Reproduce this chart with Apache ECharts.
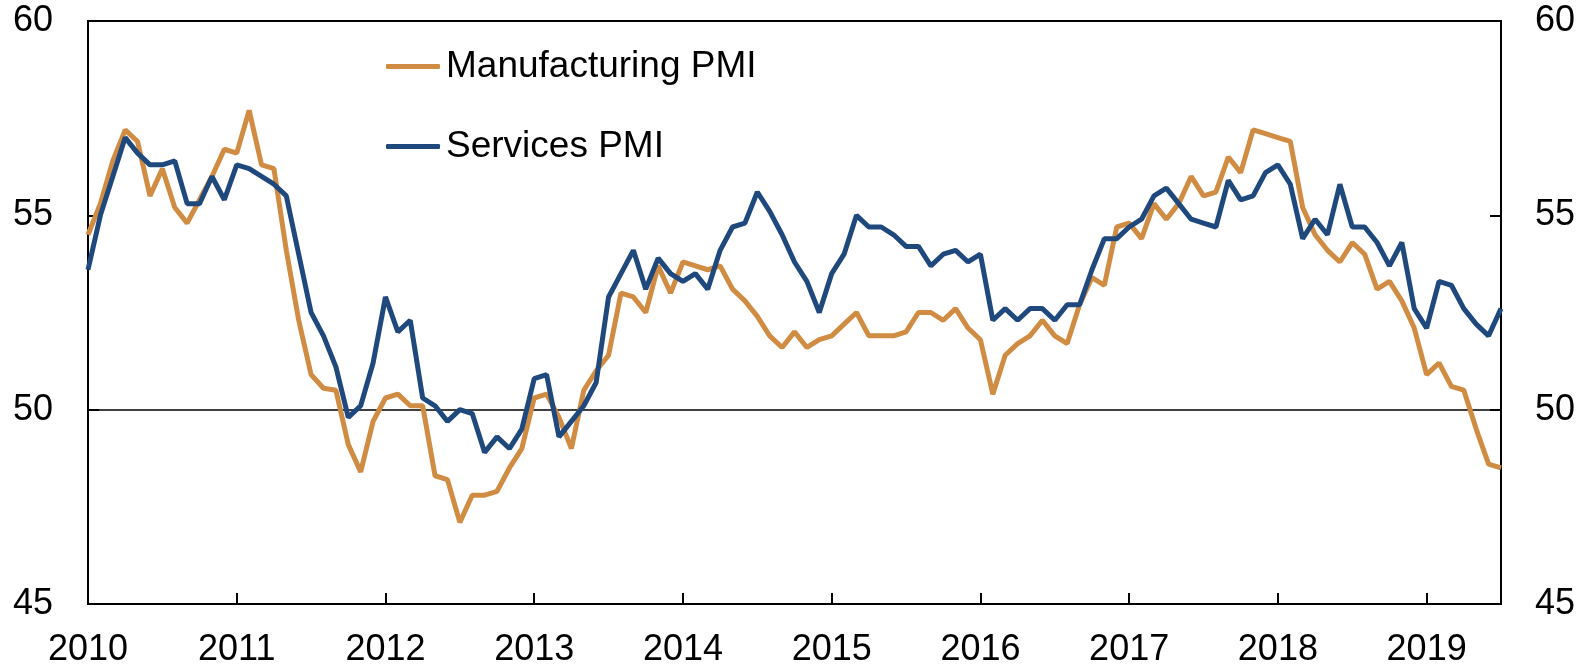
<!DOCTYPE html>
<html>
<head>
<meta charset="utf-8">
<script src="https://cdn.jsdelivr.net/npm/echarts@6/dist/echarts.min.js"></script>
<style>
html,body{margin:0;padding:0;background:#fff;}
#chart{width:1587px;height:668px;}
</style>
</head>
<body>
<div id="chart"></div>
<script>
// Monthly categories Jan 2010 .. Jul 2019
const startYear = 2010;
const monthCount = 115;
const months = [];
for (let i = 0; i < monthCount; i++) {
  const y = startYear + Math.floor(i / 12);
  const m = (i % 12) + 1;
  months.push(y + '-' + (m < 10 ? '0' + m : m));
}

const manufacturingPMI = [
  54.5, 55.3, 56.4, 57.2, 56.9, 55.5, 56.2, 55.2, 54.8, 55.4, 56.0, 56.7,
  56.6, 57.7, 56.3, 56.2, 54.1, 52.3, 50.9, 50.55, 50.5, 49.1, 48.4, 49.7,
  50.3, 50.4, 50.1, 50.1, 48.3, 48.2, 47.1, 47.8, 47.8, 47.9, 48.5, 49.0,
  50.3, 50.4, 49.8, 49.0, 50.5, 51.0, 51.4, 53.0, 52.9, 52.5, 53.7, 53.0,
  53.8, 53.7, 53.6, 53.7, 53.1, 52.8, 52.4, 51.9, 51.6, 52.0, 51.6, 51.8,
  51.9, 52.2, 52.5, 51.9, 51.9, 51.9, 52.0, 52.5, 52.5, 52.3, 52.6, 52.1,
  51.8, 50.4, 51.4, 51.7, 51.9, 52.3, 51.9, 51.7, 52.7, 53.4, 53.2, 54.7,
  54.8, 54.4, 55.3, 54.9, 55.3, 56.0, 55.5, 55.6, 56.5, 56.1, 57.2, 57.1,
  57.0, 56.9, 55.2, 54.5, 54.1, 53.8, 54.3, 54.0, 53.1, 53.3, 52.8, 52.1,
  50.9, 51.2, 50.6, 50.5, 49.5, 48.6, 48.5
];

const servicesPMI = [
  53.6, 55.0, 56.0, 57.0, 56.6, 56.3, 56.3, 56.4, 55.3, 55.3, 56.0, 55.4,
  56.3, 56.2, 56.0, 55.8, 55.5, 54.0, 52.5, 51.9, 51.1, 49.8, 50.1, 51.2,
  52.9, 52.0, 52.3, 50.3, 50.1, 49.7, 50.0, 49.9, 48.9, 49.3, 49.0, 49.5,
  50.8, 50.9, 49.3, 49.7, 50.1, 50.7, 52.9, 53.5, 54.1, 53.1, 53.9, 53.5,
  53.3, 53.5, 53.1, 54.1, 54.7, 54.8, 55.6, 55.1, 54.5, 53.8, 53.3, 52.5,
  53.5, 54.0, 55.0, 54.7, 54.7, 54.5, 54.2, 54.2, 53.7, 54.0, 54.1, 53.8,
  54.0, 52.3, 52.6, 52.3, 52.6, 52.6, 52.3, 52.7, 52.7, 53.6, 54.4, 54.4,
  54.7, 54.9, 55.5, 55.7, 55.3, 54.9, 54.8, 54.7, 55.9, 55.4, 55.5, 56.1,
  56.3, 55.8, 54.4, 54.9, 54.5, 55.8, 54.7, 54.7, 54.3, 53.7, 54.3, 52.6,
  52.1, 53.3, 53.2, 52.6, 52.2, 51.9, 52.6
];

const yMin = 45, yMax = 60, yStep = 5;
const refLevel = 50;

const FONT = 'Arial, "Liberation Sans", sans-serif';
const orange = '#D08C42';
const blue = '#1F497D';

const chart = echarts.init(document.getElementById('chart'), null, {renderer: 'canvas'});
const yearTick = (idx) => idx % 12 === 0;

const yAxisCommon = {
  type: 'value', min: yMin, max: yMax, interval: yStep,
  axisLine: {show: true, lineStyle: {color: '#000', width: 2}},
  axisTick: {show: true, inside: true, length: 11, lineStyle: {color: '#000', width: 2}},
  splitLine: {show: false},
  axisLabel: {color: '#000', fontSize: 36, fontFamily: FONT}
};

const legendText = {fontSize: 37, fontFamily: FONT, color: '#000', padding: [0, 0, 0, 1]};

chart.setOption({
  animation: false,
  backgroundColor: '#fff',
  grid: {left: 88, right: 86, top: 21, bottom: 62, show: true, borderColor: '#000', borderWidth: 2, containLabel: false},
  legend: [
    {data: ['Manufacturing PMI'], left: 381, top: 43, icon: 'roundRect', itemWidth: 54, itemHeight: 5, textStyle: legendText},
    {data: ['Services PMI'], left: 381, top: 123, icon: 'roundRect', itemWidth: 54, itemHeight: 5, textStyle: legendText}
  ],
  xAxis: {
    type: 'category', data: months, boundaryGap: false,
    axisLine: {show: true, lineStyle: {color: '#000', width: 2}},
    axisTick: {show: true, inside: true, length: 11, interval: yearTick, lineStyle: {color: '#000', width: 2}},
    axisLabel: {interval: yearTick, color: '#000', fontSize: 36, fontFamily: FONT, margin: 28,
      formatter: (v) => v.slice(0, 4)},
    splitLine: {show: false}
  },
  yAxis: [
    Object.assign({}, yAxisCommon, {position: 'left', axisLabel: Object.assign({}, yAxisCommon.axisLabel, {margin: 35})}),
    Object.assign({}, yAxisCommon, {position: 'right', axisLabel: Object.assign({}, yAxisCommon.axisLabel, {margin: 34})})
  ],
  series: [
    {
      name: 'Manufacturing PMI', type: 'line', data: manufacturingPMI, showSymbol: false, symbol: 'none',
      lineStyle: {color: orange, width: 5}, itemStyle: {color: orange},
      markLine: {silent: true, symbol: 'none', z: 1, label: {show: false},
        lineStyle: {color: '#000', width: 1.5, type: 'solid'}, data: [{yAxis: refLevel}]}
    },
    {
      name: 'Services PMI', type: 'line', data: servicesPMI, showSymbol: false, symbol: 'none',
      lineStyle: {color: blue, width: 5}, itemStyle: {color: blue}
    }
  ]
});
</script>
</body>
</html>
